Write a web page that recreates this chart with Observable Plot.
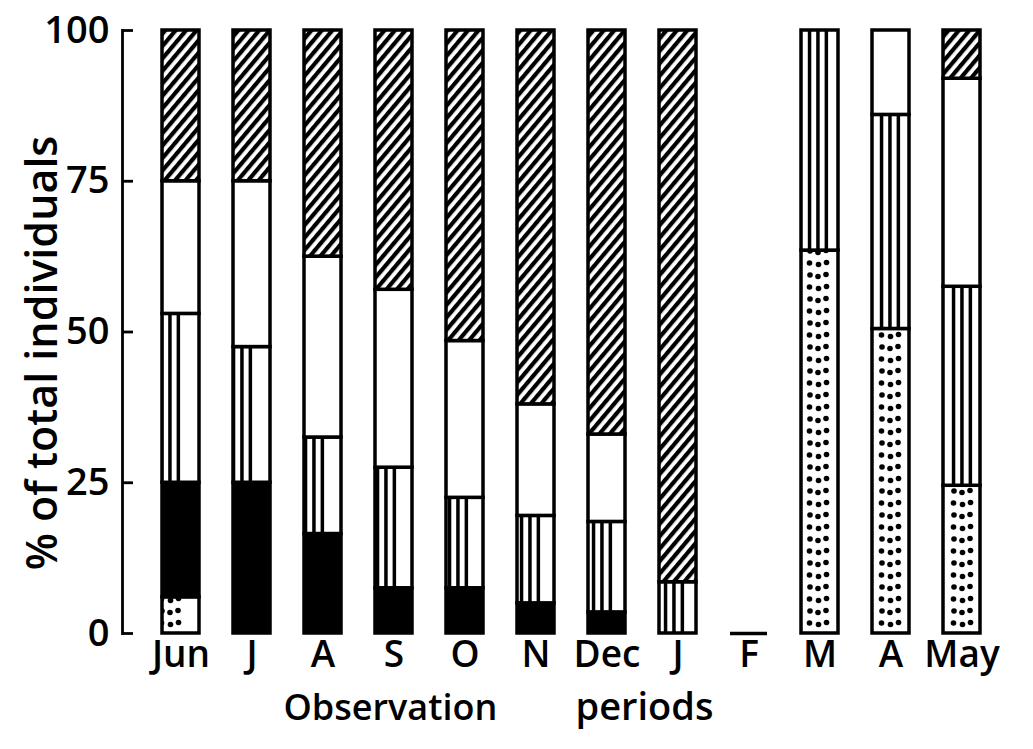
<!DOCTYPE html>
<html>
<head>
<meta charset="utf-8">
<script src="https://cdn.jsdelivr.net/npm/d3@7"></script>
<script src="https://cdn.jsdelivr.net/npm/@observablehq/plot@0.6"></script>
<style>
  html, body { margin: 0; padding: 0; background: #fff; }
</style>
</head>
<body>
<div id="chart"></div>
<script>
// Observation periods (x-axis tick labels, in order)
const periodLabels = ["Jun", "J", "A", "S", "O", "N", "Dec", "J", "F", "M", "A", "May"];

// Percentage of total individuals in each class, bottom to top of each bar
const dotted   = [6,   0,    0,    0,    0,    0,    0,    0,    0, 63.5, 50.5, 24.5];
const solid    = [19,  25,   16.5, 7.5,  7.5,  5,    3.5,  0,    0, 0,    0,    0];
const vertical = [28,  22.5, 16,   20,   15,   14.5, 15,   8.5,  0, 36.5, 35.5, 33];
const clear    = [22,  27.5, 30,   29.5, 26,   18.5, 14.5, 0,    0, 0,    14,   34.5];
const hatched  = [25,  25,   37.5, 43,   51.5, 62,   67,   91.5, 0, 0,    0,    8];

const yTicks = [0, 25, 50, 75, 100];
const emptyPeriods = [8]; // F: no individuals recorded

const layers = ["dotted", "solid", "vertical", "clear", "hatched"];
const layerValues = {dotted, solid, vertical, clear, hatched};
const layerFills = ["url(#dots)", "black", "url(#vlines)", "white", "url(#hatch)"];

const rows = [];
periodLabels.forEach((_, i) => {
  for (const layer of layers) {
    const value = layerValues[layer][i];
    if (value > 0) rows.push({i, layer, value});
  }
});

const W = 1033, H = 749;
const mL = 139, mR = 30, mT = 30, mB = 116;
const font = "'Open Sans', 'Liberation Sans', sans-serif";

const chart = Plot.plot({
  width: W,
  height: H,
  marginLeft: mL,
  marginRight: mR,
  marginTop: mT,
  marginBottom: mB,
  style: {fontFamily: font, color: "black", background: "white", overflow: "visible"},
  x: {domain: d3.range(periodLabels.length), paddingInner: 0.4722, paddingOuter: 0.2639, align: 0.5, label: null},
  y: {domain: [0, 100], label: null},
  color: {type: "ordinal", domain: layers, range: layerFills},
  marks: [
    Plot.barY(rows, {x: "i", y: "value", fill: "layer", stroke: "black", strokeWidth: 3.5}),
    Plot.tickY(emptyPeriods.map(i => ({i, value: 0})), {x: "i", y: "value", stroke: "black", strokeWidth: 3.5}),
    Plot.frame({anchor: "left", dx: -17, strokeWidth: 2.8}),
    Plot.ruleY(yTicks, {insetLeft: -17, insetRight: (W - mL - mR) - 11 + 17, strokeWidth: 2.8}),
    Plot.axisY({ticks: yTicks, tickSize: 0, dx: -17, tickPadding: 13, fontSize: 38, fontWeight: 600, label: null}),
    Plot.axisX({tickSize: 0, tickPadding: 7, tickFormat: i => periodLabels[i], fontSize: 37, fontWeight: 600, label: null}),
    Plot.text(["% of total individuals"], {text: d => d, frameAnchor: "left", textAnchor: "middle", rotate: -90, dx: -96, dy: 21, fontSize: 43, fontWeight: 600}),
    Plot.text(["Observation"], {text: d => d, frameAnchor: "bottom-left", textAnchor: "start", dx: 283 - mL, dy: 86, fontSize: 36, fontWeight: 600}),
    Plot.text(["periods"], {text: d => d, frameAnchor: "bottom-left", textAnchor: "start", dx: 575 - mL, dy: 86, fontSize: 38, fontWeight: 600})
  ]
});

// Fill patterns for the bar classes
const ns = "http://www.w3.org/2000/svg";
const defs = document.createElementNS(ns, "defs");
defs.innerHTML = `
  <pattern id="hatch" patternUnits="userSpaceOnUse" width="8" height="8" patternTransform="rotate(40)">
    <rect width="8" height="8" fill="white"/>
    <rect width="4.2" height="8" fill="black"/>
  </pattern>
  <pattern id="vlines" patternUnits="userSpaceOnUse" x="${mL}" width="72" height="10">
    <rect width="72" height="10" fill="white"/>
    <rect x="20.8" width="3.5" height="10" fill="black"/>
    <rect x="29.2" width="3.5" height="10" fill="black"/>
    <rect x="37.6" width="3.5" height="10" fill="black"/>
  </pattern>
  <pattern id="dots" patternUnits="userSpaceOnUse" x="${mL}" y="${mT}" width="72" height="24">
    <rect width="72" height="24" fill="white"/>
    <circle cx="23" cy="5" r="2.8" fill="black"/>
    <circle cx="31" cy="6.5" r="2.8" fill="black"/>
    <circle cx="39" cy="4.5" r="2.8" fill="black"/>
    <circle cx="22.5" cy="17" r="2.8" fill="black"/>
    <circle cx="31.5" cy="18.5" r="2.8" fill="black"/>
    <circle cx="39.5" cy="16.5" r="2.8" fill="black"/>
  </pattern>`;
chart.insertBefore(defs, chart.firstChild);

document.getElementById("chart").appendChild(chart);
</script>
</body>
</html>
